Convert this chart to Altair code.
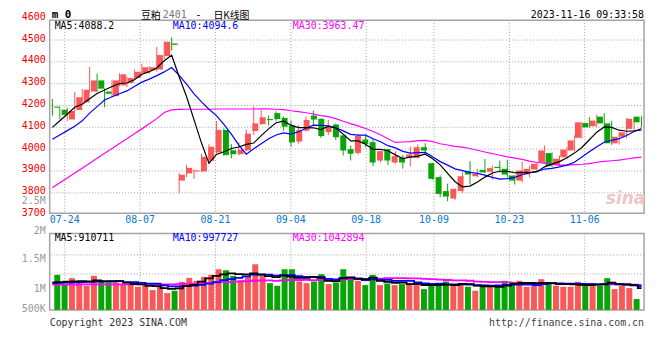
import altair as alt
import pandas as pd

# ---------------- data ----------------
DATES = ["07-20", "07-21", "07-24", "07-25", "07-26", "07-27", "07-28", "07-31",
         "08-01", "08-02", "08-03", "08-04", "08-07", "08-08", "08-09", "08-10", "08-11",
         "08-14", "08-15", "08-16", "08-17", "08-18", "08-21", "08-22", "08-23", "08-24", "08-25",
         "08-28", "08-29", "08-30", "08-31", "09-01",
         "09-04", "09-05", "09-06", "09-07", "09-08", "09-11", "09-12", "09-13", "09-14", "09-15",
         "09-18", "09-19", "09-20", "09-21", "09-22", "09-25", "09-26", "09-27", "09-28",
         "10-09", "10-10", "10-11", "10-12", "10-13", "10-16", "10-17", "10-18", "10-19", "10-20",
         "10-23", "10-24", "10-25", "10-26", "10-27", "10-30", "10-31",
         "11-01", "11-02", "11-03", "11-06", "11-07", "11-08", "11-09", "11-10",
         "11-13", "11-14", "11-15", "11-16"]

OPEN = [4195, 4181, 4136, 4180, 4215, 4264, 4315, 4264, 4243, 4292,
        4303, 4326, 4349, 4361, 4365, 4426, 4484, 3856, 3889, 3898,
        3898, 3947, 3985, 4088, 3995, 3977, 3995, 4083, 4115, 4138,
        4165, 4143, 4108, 4035, 4085, 4154, 4139, 4078, 4113, 4063,
        4000, 3983, 4044, 4032, 3948, 4000, 3939, 3960, 3960, 3960,
        4009, 3936, 3872, 3808, 3774, 3808, 3898, 3876, 3905, 3897,
        3919, 3910, 3879, 3856, 3884, 3907, 3939, 3982, 3928, 3963,
        3994, 4052, 4120, 4105, 4149, 4118, 4027, 4057, 4093, 4149]
CLOSE = [4190, 4157, 4175, 4238, 4272, 4315, 4277, 4254, 4315, 4343,
         4326, 4354, 4375, 4375, 4431, 4492, 4478, 3883, 3914, 3903,
         3965, 4011, 4088, 3973, 3977, 3998, 4071, 4118, 4146, 4133,
         4138, 4103, 4031, 4088, 4134, 4136, 4060, 4100, 4055, 3994,
         3979, 4061, 4024, 3939, 3991, 3948, 3968, 3939, 3976, 4009,
         3994, 3864, 3795, 3783, 3818, 3876, 3884, 3887, 3894, 3913,
         3914, 3884, 3856, 3902, 3910, 3933, 3994, 3922, 3956, 3998,
         4040, 4123, 4100, 4131, 4118, 4027, 4057, 4077, 4139, 4123]
HIGH = [4230, 4189, 4192, 4262, 4275, 4377, 4346, 4278, 4318, 4348,
        4332, 4365, 4392, 4380, 4469, 4495, 4512, 3890, 3929, 3906,
        3980, 4023, 4129, 4095, 4023, 4032, 4090, 4195, 4180, 4154,
        4174, 4149, 4131, 4110, 4150, 4177, 4141, 4134, 4118, 4065,
        4017, 4070, 4063, 4047, 3993, 4001, 3990, 3974, 4012, 4022,
        4027, 3938, 3880, 3842, 3820, 3895, 3945, 3910, 3955, 3925,
        3948, 3952, 3882, 3943, 3925, 3942, 4017, 3985, 3971, 4009,
        4063, 4125, 4147, 4159, 4165, 4130, 4077, 4143, 4144, 4150]
LOW = [4153, 4138, 4128, 4175, 4210, 4260, 4261, 4192, 4240, 4288,
       4285, 4322, 4335, 4345, 4355, 4410, 4452, 3798, 3872, 3864,
       3895, 3940, 3980, 3970, 3958, 3972, 3990, 4065, 4110, 4108,
       4130, 4085, 4011, 4025, 4080, 4108, 4052, 4064, 4043, 3971,
       3948, 3975, 4009, 3922, 3940, 3928, 3933, 3911, 3921, 3958,
       3976, 3860, 3780, 3762, 3768, 3800, 3838, 3871, 3890, 3860,
       3894, 3871, 3838, 3848, 3870, 3900, 3935, 3917, 3920, 3954,
       3990, 4048, 4098, 4100, 4100, 4020, 4021, 4050, 4088, 4100]

MA5 = [4100, 4130, 4160, 4192, 4206, 4231, 4255, 4271, 4287, 4301,
       4303, 4318, 4343, 4355, 4372, 4405, 4430, 4332, 4240, 4134,
       4028, 3935, 3976, 3988, 4003, 4010, 4022, 4028, 4062, 4093,
       4121, 4128, 4110, 4099, 4099, 4098, 4090, 4104, 4097, 4069,
       4038, 4038, 4023, 3999, 3999, 3993, 3974, 3957, 3964, 3968,
       3977, 3956, 3928, 3889, 3851, 3827, 3831, 3850, 3872, 3891,
       3899, 3899, 3892, 3894, 3893, 3897, 3919, 3932, 3943, 3961,
       3982, 4008, 4043, 4078, 4102, 4100, 4087, 4082, 4084, 4088]
MA10 = [4045, 4065, 4085, 4105, 4130, 4165, 4195, 4225, 4240, 4254,
        4267, 4287, 4307, 4321, 4337, 4354, 4374, 4338, 4298, 4253,
        4217, 4183, 4154, 4114, 4069, 4019, 3977, 4002, 4025, 4048,
        4065, 4075, 4069, 4080, 4096, 4110, 4109, 4107, 4098, 4084,
        4068, 4064, 4064, 4048, 4034, 4016, 4006, 3990, 3982, 3984,
        3985, 3965, 3943, 3927, 3910, 3902, 3894, 3889, 3881, 3871,
        3863, 3865, 3871, 3883, 3892, 3898, 3909, 3912, 3919, 3927,
        3940, 3964, 3988, 4011, 4032, 4041, 4048, 4063, 4081, 4095]
MA30 = [3823, 3846, 3868, 3891, 3913, 3936, 3958, 3981, 4003, 4026,
        4048, 4071, 4093, 4116, 4140, 4168, 4180, 4182, 4183, 4183,
        4183, 4183, 4184, 4184, 4184, 4184, 4184, 4184, 4185, 4185,
        4183, 4181, 4176, 4172, 4167, 4161, 4154, 4149, 4140, 4128,
        4117, 4107, 4095, 4081, 4066, 4048, 4031, 4033, 4035, 4039,
        4040, 4035, 4025, 4019, 4013, 4009, 4003, 3995, 3987, 3980,
        3972, 3965, 3959, 3953, 3945, 3939, 3936, 3930, 3927, 3927,
        3929, 3931, 3934, 3940, 3944, 3947, 3950, 3955, 3960, 3964]

# volume, in millions of lots
VOLUME_M = [1.466, 1.051, 1.328, 1.148, 1.010, 1.425, 1.245, 1.148, 1.148, 1.051,
            1.107, 0.968, 1.079, 0.830, 0.996, 0.705, 0.802, 1.176, 1.342, 1.217,
            1.383, 1.466, 1.701, 1.660, 1.425, 1.245, 1.383, 1.909, 1.425, 1.120,
            1.010, 1.701, 1.701, 1.190, 1.120, 1.190, 1.494, 1.079, 1.148, 1.701,
            1.328, 1.217, 1.037, 1.466, 1.037, 1.107, 1.037, 1.079, 1.120, 1.107,
            0.871, 1.010, 1.120, 1.190, 1.010, 1.120, 0.968, 0.802, 1.051, 0.968,
            1.051, 1.217, 1.176, 1.217, 0.968, 1.010, 1.286, 1.120, 1.010, 0.968,
            0.968, 1.176, 1.079, 1.120, 1.010, 1.328, 0.871, 1.010, 0.913, 0.456]
VMA5 = [1.15, 1.16, 1.18, 1.19, 1.201, 1.192, 1.231, 1.195, 1.195, 1.203,
        1.140, 1.084, 1.071, 1.007, 0.996, 0.916, 0.882, 0.902, 1.004, 1.048,
        1.184, 1.317, 1.422, 1.485, 1.527, 1.499, 1.483, 1.524, 1.477, 1.416,
        1.369, 1.433, 1.391, 1.344, 1.344, 1.380, 1.339, 1.215, 1.206, 1.322,
        1.350, 1.295, 1.286, 1.350, 1.217, 1.173, 1.137, 1.145, 1.076, 1.090,
        1.043, 1.037, 1.046, 1.060, 1.040, 1.090, 1.082, 1.018, 0.990, 0.982,
        0.968, 1.018, 1.093, 1.126, 1.126, 1.118, 1.131, 1.120, 1.079, 1.079,
        1.070, 1.048, 1.040, 1.062, 1.071, 1.143, 1.082, 1.068, 1.026, 0.911]
VMA10 = [1.12, 1.13, 1.14, 1.15, 1.16, 1.17, 1.18, 1.19, 1.20, 1.202,
         1.166, 1.158, 1.133, 1.101, 1.100, 1.028, 0.983, 0.986, 1.006, 1.022,
         1.050, 1.100, 1.162, 1.245, 1.288, 1.342, 1.400, 1.473, 1.481, 1.472,
         1.434, 1.458, 1.458, 1.411, 1.380, 1.375, 1.386, 1.303, 1.275, 1.333,
         1.365, 1.317, 1.250, 1.278, 1.270, 1.261, 1.216, 1.216, 1.213, 1.154,
         1.108, 1.087, 1.095, 1.068, 1.065, 1.066, 1.060, 1.032, 1.025, 1.011,
         1.029, 1.050, 1.055, 1.058, 1.054, 1.043, 1.075, 1.106, 1.102, 1.102,
         1.094, 1.090, 1.080, 1.071, 1.075, 1.107, 1.065, 1.054, 1.044, 0.998]
VMA30 = [1.06, 1.06, 1.06, 1.06, 1.07, 1.07, 1.07, 1.07, 1.07, 1.07,
         1.07, 1.07, 1.07, 1.07, 1.07, 1.07, 1.07, 1.08, 1.09, 1.10,
         1.11, 1.12, 1.14, 1.16, 1.17, 1.18, 1.20, 1.22, 1.23, 1.232,
         1.217, 1.238, 1.251, 1.252, 1.256, 1.248, 1.256, 1.254, 1.254, 1.276,
         1.283, 1.291, 1.290, 1.311, 1.313, 1.326, 1.334, 1.331, 1.323, 1.320,
         1.302, 1.287, 1.268, 1.252, 1.238, 1.234, 1.220, 1.184, 1.171, 1.166,
         1.167, 1.151, 1.134, 1.135, 1.130, 1.124, 1.117, 1.118, 1.113, 1.089,
         1.077, 1.076, 1.077, 1.065, 1.065, 1.072, 1.066, 1.064, 1.057, 1.043]

TICK_LABELS = ["07-24", "08-07", "08-21", "09-04", "09-18", "10-09", "10-23", "11-06"]
PRICE_TICKS = [3700, 3800, 3900, 4000, 4100, 4200, 4300, 4400, 4500, 4600]
PRICE_GRID = [3800, 3900, 4000, 4100, 4200, 4300, 4400, 4500]
VOL_GRID_M = [1.5, 2.3]
VOL_TICK_LABELS = ["2.5M", "2M", "1.5M", "1M", "500K"]

# ---------------- layout / style ----------------
W, H = 599, 294
RED = "#f85858"
GREEN = "#08a408"
GRIDC = "#a0a0a0"
FRAMEC = "#a4a4a4"
MONO = "DejaVu Sans Mono"
CJK = "Noto Sans CJK SC"
PX_PER_POINT = 0.22
PX_PER_MLOT = 24.1

PRICE_SCALE = alt.Scale(domain=[4600 - H / PX_PER_POINT, 4600], nice=False, zero=False)
VOL_SCALE = alt.Scale(domain=[0, H / PX_PER_MLOT], nice=False, zero=False)
CANDLE_X = alt.Scale(domain=[-0.36, 79.34], nice=False, zero=False)
GRID_X = alt.Scale(domain=[0, 78.88], nice=False, zero=False)

PRICE_TOP, PRICE_BOTTOM = 2, 196.5
VOL_TOP, VOL_BOTTOM = 217, 294
VOL_LABEL_Y = [184, 214, 243, 272.7, 292.7]
TITLE_Y = -3.5
CJK_Y = -2.5
LEGEND_Y = 8

df = pd.DataFrame({
    "i": list(range(len(DATES))), "date": DATES,
    "open": OPEN, "close": CLOSE, "high": HIGH, "low": LOW,
    "ma5": MA5, "ma10": MA10, "ma30": MA30,
    "vol": VOLUME_M, "vma5": VMA5, "vma10": VMA10, "vma30": VMA30,
})
df["dir"] = ["up" if c >= o else "down" for o, c in zip(OPEN, CLOSE)]

dir_color = alt.Color("dir:N", scale=alt.Scale(domain=["up", "down"], range=[RED, GREEN]), legend=None)
xq = alt.X("i:Q", scale=CANDLE_X, axis=None)
base = alt.Chart(df)

one = pd.DataFrame({"k": [0]})


def text(t, x, y, color="black", size=10, font=MONO, align="left", weight="normal", style="normal"):
    return alt.Chart(pd.DataFrame({"t": [t]})).mark_text(
        align=align, baseline="middle", font=font, fontSize=size, color=color,
        fontWeight=weight, fontStyle=style
    ).encode(x=alt.value(x), y=alt.value(y), text="t:N")


def frame(y0, y1):
    return alt.Chart(one).mark_rect(fillOpacity=0, stroke=FRAMEC, strokeWidth=1.5).encode(
        x=alt.value(0), x2=alt.value(W), y=alt.value(y0), y2=alt.value(y1))


def line(field, color, scale, width=1.0, interp="linear"):
    return base.mark_line(color=color, strokeWidth=width, interpolate=interp).encode(
        x=xq, y=alt.Y(f"{field}:Q", scale=scale, axis=None))


tick_df = pd.DataFrame({"label": TICK_LABELS, "i": [DATES.index(d) for d in TICK_LABELS]})
tick_x = alt.X("i:Q", scale=GRID_X, axis=None)

price_hgrid = alt.Chart(pd.DataFrame({"p": PRICE_GRID})).mark_rule(
    color=GRIDC, strokeDash=[1, 2], strokeWidth=1).encode(y=alt.Y("p:Q", scale=PRICE_SCALE, axis=None))
vol_hgrid = alt.Chart(pd.DataFrame({"v": VOL_GRID_M})).mark_rule(
    color=GRIDC, strokeDash=[1, 2], strokeWidth=1).encode(y=alt.Y("v:Q", scale=VOL_SCALE, axis=None))
price_vgrid = alt.Chart(tick_df).mark_rule(color=GRIDC, strokeDash=[1, 2], strokeWidth=1).encode(
    x=tick_x, y=alt.value(PRICE_TOP), y2=alt.value(PRICE_BOTTOM))
vol_vgrid = alt.Chart(tick_df).mark_rule(color=GRIDC, strokeDash=[1, 2], strokeWidth=1).encode(
    x=tick_x, y=alt.value(VOL_TOP), y2=alt.value(VOL_BOTTOM))

date_labels = alt.Chart(tick_df).mark_text(
    align="center", baseline="middle", font=MONO, fontSize=10, color="#0a78d2").encode(
    x=tick_x, y=alt.value(203.5), text="label:N")

price_labels = alt.Chart(pd.DataFrame({"p": PRICE_TICKS, "lab": [str(v) for v in PRICE_TICKS]})).mark_text(
    align="right", baseline="middle", font=MONO, fontSize=10, color="#f00000", dy=-1.5).encode(
    x=alt.value(-4), y=alt.Y("p:Q", scale=PRICE_SCALE, axis=None), text="lab:N")

vol_labels = [text(lab, -4, yy, color="#999999", align="right")
              for lab, yy in zip(VOL_TICK_LABELS, VOL_LABEL_Y)]

wicks = base.mark_rule(strokeWidth=1).encode(
    x=xq, y=alt.Y("low:Q", scale=PRICE_SCALE, axis=None), y2="high:Q", color=dir_color)
bodies = base.mark_bar(size=6).encode(
    x=xq, y=alt.Y("open:Q", scale=PRICE_SCALE, axis=None), y2="close:Q", color=dir_color)
vol_bars = base.mark_bar(size=6).encode(
    x=xq, y=alt.Y("vol:Q", scale=VOL_SCALE, axis=None), color=dir_color)

layers = [
    price_hgrid, vol_hgrid, price_vgrid, vol_vgrid,
    frame(PRICE_TOP, PRICE_BOTTOM), frame(VOL_TOP, VOL_BOTTOM),
    text("sina", 600, 182, color="#f2c6c6", size=17, font="DejaVu Sans", align="right",
         weight="bold", style="italic"),
    vol_bars,
    line("vma30", "#ff00ff", VOL_SCALE, 1.8, "step"),
    line("vma10", "#0000ff", VOL_SCALE, 1.8, "step"),
    line("vma5", "#000000", VOL_SCALE, 1.8, "step"),
    wicks, bodies,
    line("ma30", "#ff00ff", PRICE_SCALE, 1.2),
    line("ma10", "#0000ff", PRICE_SCALE, 1.2),
    line("ma5", "#000000", PRICE_SCALE, 1.2),
    price_labels, date_labels,
    text("m 0", 2, TITLE_Y, size=11, weight="bold"),
    text("豆粕", 92, CJK_Y, size=10, font=CJK),
    text("2401", 114, TITLE_Y, color="#777777"),
    text("-", 150, TITLE_Y, align="center"),
    text("日K线图", 165, CJK_Y, size=10, font=CJK),
    text("2023-11-16 09:33:58", W, TITLE_Y, align="right"),
    text("MA5:4088.2", 5, LEGEND_Y),
    text("MA10:4094.6", 124, LEGEND_Y, color="#0000ff"),
    text("MA30:3963.47", 245, LEGEND_Y, color="#ff00ff"),
    text("MA5:910711", 5, 222),
    text("MA10:997727", 124, 222, color="#0000ff"),
    text("MA30:1042894", 245, 222, color="#ff00ff"),
    text("Copyright 2023 SINA.COM", 0, 307, color="#333333"),
    text("http://finance.sina.com.cn", W, 307, color="#444444", align="right"),
] + vol_labels

chart = alt.layer(*layers).resolve_scale(
    x="independent", y="independent", color="independent"
).properties(
    width=W, height=H,
    padding={"left": 42, "top": 9, "right": 8, "bottom": 25},
    autosize=alt.AutoSizeParams(type="none"),
).configure_view(stroke=None)

chart.save("out.html", embed_options={"renderer": "svg", "actions": False})
